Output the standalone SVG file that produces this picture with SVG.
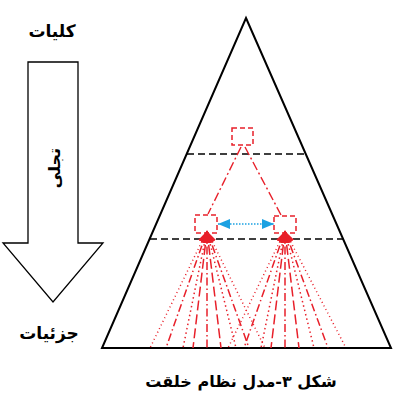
<svg xmlns="http://www.w3.org/2000/svg" width="402" height="410" viewBox="0 0 402 410">
<style>
.t{font-family:"DejaVu Sans",sans-serif;font-weight:bold;fill:#000}
.blk{fill:none;stroke:#000}
.hd{fill:none;stroke:#000;stroke-width:1.5;stroke-dasharray:7 4}
.rb{fill:none;stroke:#e8202a;stroke-width:1.5;stroke-dasharray:5 3}
.rl{fill:none;stroke:#e8202a;stroke-width:1.4;stroke-dasharray:9 3 2 3}
.f{fill:none;stroke:#e8202a;stroke-width:1.5;marker-start:url(#ra)}
</style>
<defs>
<marker id="ra" viewBox="0 0 12 8" refX="12" refY="4" markerWidth="12" markerHeight="8" markerUnits="userSpaceOnUse" orient="auto-start-reverse">
<path d="M0,0 L12,4 L0,8 z" fill="#e8202a"/>
</marker>
<marker id="ba" viewBox="0 0 12 10" refX="12" refY="5" markerWidth="12" markerHeight="11" markerUnits="userSpaceOnUse" orient="auto-start-reverse">
<path d="M0,0 L12,5 L0,10 z" fill="#1ba1e2"/>
</marker>
</defs>
<g id="label-top"><text class="t" x="52" y="37" font-size="17" text-anchor="middle">کلیات</text></g>
<g id="arrow-tajalli">
<polygon class="blk" stroke-width="1.3" points="28,62 78,62 78,243 103,243 53,302 3,243 28,243"/>
<text class="t" x="0" y="0" font-size="16" text-anchor="middle" transform="translate(60,168) rotate(-90)">تجلی</text>
</g>
<g id="label-bottom"><text class="t" x="49" y="339" font-size="17" text-anchor="middle">جزئیات</text></g>
<g id="pyramid">
<polygon class="blk" stroke-width="2" points="246,18 391,348 102,348"/>
<line class="hd" x1="187" y1="154" x2="306" y2="154"/>
<line class="hd" x1="150" y1="239" x2="343" y2="239"/>
</g>
<g id="box-top"><rect class="rb" x="232" y="128" width="21" height="17"/></g>
<g id="box-left"><rect class="rb" x="195" y="215" width="22" height="18"/></g>
<g id="box-right"><rect class="rb" x="274" y="216" width="22" height="17"/></g>
<g id="connectors">
<line class="rl" x1="241" y1="147" x2="208" y2="214"/>
<line class="rl" x1="245" y1="147" x2="281" y2="215"/>
<line x1="218" y1="224" x2="274" y2="224" stroke="#1ba1e2" stroke-width="1.5" stroke-dasharray="1.5 1.5" marker-start="url(#ba)" marker-end="url(#ba)"/>
<g id="fan-left">
<line class="f" x1="207" y1="231" x2="150" y2="348" stroke-dasharray="1 3"/>
<line class="f" x1="207" y1="231" x2="166" y2="348" stroke-dasharray="8 3 1.5 3"/>
<line class="f" x1="207" y1="231" x2="183" y2="348" stroke-dasharray="1.5 3"/>
<line class="f" x1="207" y1="231" x2="193" y2="348" stroke-dasharray="10 4"/>
<line class="f" x1="207" y1="231" x2="207" y2="348" stroke-dasharray="8 3 1.5 3"/>
<line class="f" x1="207" y1="231" x2="221" y2="348" stroke-dasharray="10 4"/>
<line class="f" x1="207" y1="231" x2="236" y2="348" stroke-dasharray="1.5 3"/>
<line class="f" x1="207" y1="231" x2="249" y2="348" stroke-dasharray="8 3 1.5 3"/>
<line class="f" x1="207" y1="231" x2="265" y2="348" stroke-dasharray="1 3"/>
</g>
<g id="fan-right">
<line class="f" x1="285" y1="231" x2="228" y2="348" stroke-dasharray="1 3"/>
<line class="f" x1="285" y1="231" x2="244" y2="348" stroke-dasharray="8 3 1.5 3"/>
<line class="f" x1="285" y1="231" x2="261" y2="348" stroke-dasharray="1.5 3"/>
<line class="f" x1="285" y1="231" x2="271" y2="348" stroke-dasharray="10 4"/>
<line class="f" x1="285" y1="231" x2="285" y2="348" stroke-dasharray="8 3 1.5 3"/>
<line class="f" x1="285" y1="231" x2="299" y2="348" stroke-dasharray="10 4"/>
<line class="f" x1="285" y1="231" x2="314" y2="348" stroke-dasharray="1.5 3"/>
<line class="f" x1="285" y1="231" x2="328" y2="348" stroke-dasharray="8 3 1.5 3"/>
<line class="f" x1="285" y1="231" x2="346" y2="348" stroke-dasharray="1 3"/>
</g>
</g>
<g id="caption"><text class="t" x="241" y="387" font-size="16" text-anchor="middle">شکل ۳-مدل نظام خلقت</text></g>
</svg>
